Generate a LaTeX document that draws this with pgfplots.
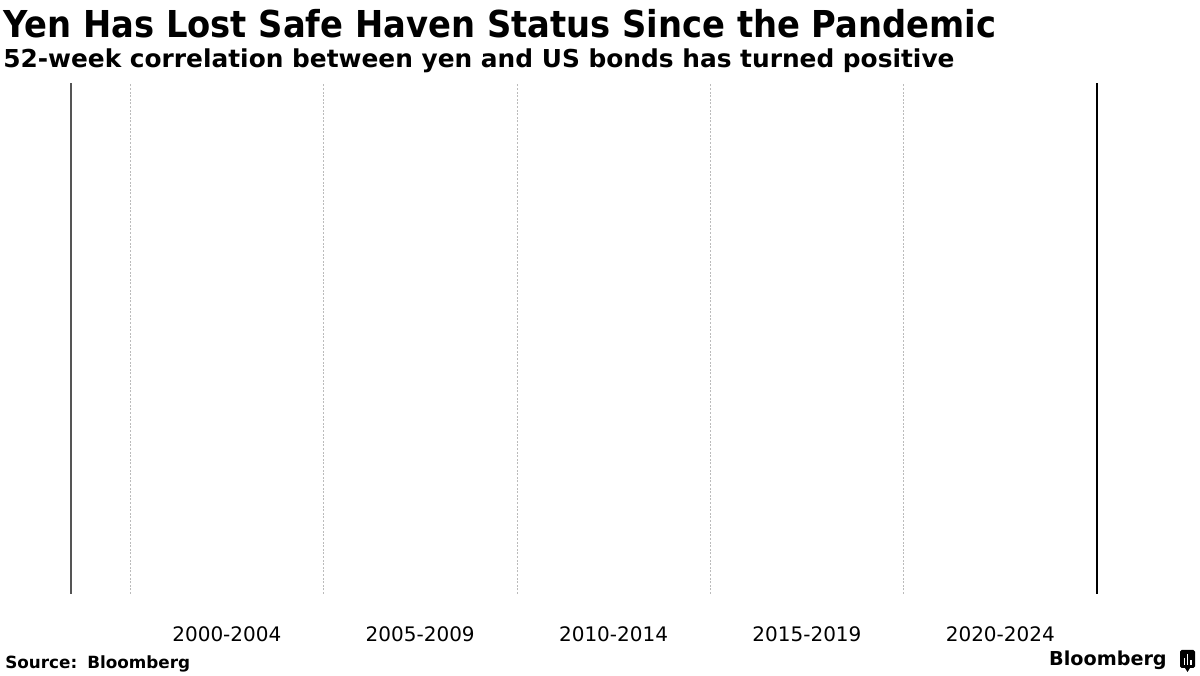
\documentclass[border=0pt]{standalone}
\usepackage{fontspec}
\setmainfont{DejaVu Sans}
\usepackage{pgfplots}
\pgfplotsset{compat=1.18}
\definecolor{gridgray}{HTML}{BBBBBB}
\definecolor{leftgray}{HTML}{555555}
\begin{document}
\begin{tikzpicture}[x=0.75pt,y=0.75pt]
\useasboundingbox (0,0) rectangle (1200,675);
% titles
\node[anchor=base west, inner sep=0pt, font=\fontsize{27.8pt}{30pt}\selectfont\bfseries] at (3,{675-38}) {\scalebox{0.911}[1]{Yen Has Lost Safe Haven Status Since the Pandemic}};
\node[anchor=base west, inner sep=0pt, font=\fontsize{18.5pt}{20pt}\selectfont\bfseries] at (3,{675-68}) {\scalebox{1.007}[1]{52-week correlation between yen and US bonds has turned positive}};
\begin{axis}[
  at={(53.25pt,60.75pt)}, anchor=south west,
  scale only axis, width=769.5pt, height=383.25pt,
  xmin=1998.47, xmax=2025, ymin=0, ymax=1,
  ytick=\empty,
  xtick={2002.5,2007.5,2012.5,2017.5,2022.5},
  xticklabels={2000-2004,2005-2009,2010-2014,2015-2019,2020-2024},
  minor xtick={2000,2005,2010,2015,2020},
  xminorgrids=true,
  minor grid style={gridgray, line width=0.6pt, dash pattern=on 1.5pt off 1.2pt},
  major tick length=0pt, minor tick length=0pt,
  axis line style={draw=none},
  xticklabel style={font=\fontsize{15pt}{17pt}\selectfont, anchor=north, inner sep=0pt, yshift=-24pt},
  clip=false,
]
\draw[leftgray, line width=0.8pt] (rel axis cs:0,0) -- (rel axis cs:0,1);
\draw[black, line width=1.5pt] (rel axis cs:1,0) -- (rel axis cs:1,1);
\end{axis}
% source
\node[anchor=base west, inner sep=0pt, font=\fontsize{12.6pt}{14pt}\selectfont\bfseries] at (5,{675-668}) {Source:\hspace{0.6em}Bloomberg};
% logo
\node[anchor=base east, inner sep=0pt, font=\fontsize{14.4pt}{16pt}\selectfont\bfseries] at (1167,{675-666}) {Bloomberg};
\fill[black, rounded corners=1.2pt] (1180,{675-668}) rectangle (1195,{675-650});
\fill[black] (1185,{675-668}) -- (1187.5,{675-672}) -- (1190,{675-668}) -- cycle;
\fill[white] (1183.5,{675-665}) rectangle (1185,{675-658});
\fill[white] (1186.8,{675-665}) rectangle (1188.3,{675-654});
\fill[white] (1190.1,{675-665}) rectangle (1191.6,{675-660});
\end{tikzpicture}
\end{document}
